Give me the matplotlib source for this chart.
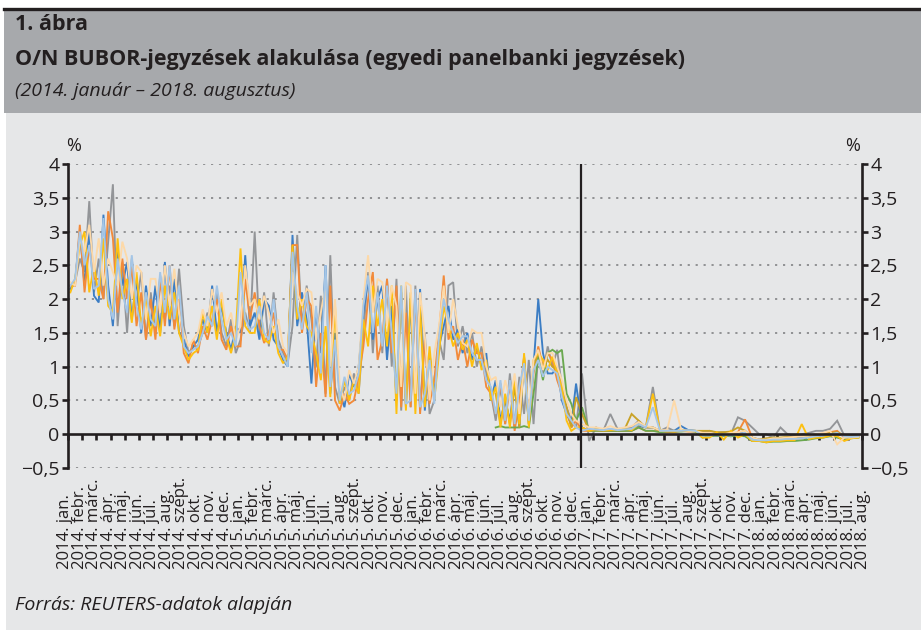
import numpy as np
import matplotlib
matplotlib.use("Agg")
import matplotlib.pyplot as plt
from matplotlib.patches import Rectangle
from matplotlib.lines import Line2D
from matplotlib.ticker import FuncFormatter
import matplotlib.transforms as mtransforms

# ---------------- data ----------------
months_hu = ["jan.", "febr.", "márc.", "ápr.", "máj.", "jún.", "júl.", "aug.",
             "szept.", "okt.", "nov.", "dec."]
month_labels = [f"{y}. {m}" for y in range(2014, 2019) for m in months_hu][:56]

# observation times (months since 2014 jan.): 3 per month 2014-2016, 2 per month 2017-2018
obs_a = [m + f for m in range(36) for f in (1/6, 1/2, 5/6)]
obs_b = [m + f for m in range(36, 56) for f in (0.25, 0.75)]
t = np.array(obs_a + obs_b)

grey = [2.2, 2.25, 2.6, 2.4, 3.45, 2.1, 2.6, 2.0, 2.85, 3.7, 1.6, 2.5,
        1.5, 2.6, 1.9, 2.4, 1.4, 2.1, 1.5, 2.35, 1.7, 2.2, 1.6, 2.45,
        1.6, 1.2, 1.3, 1.3, 1.5, 1.8, 1.6, 2.1, 1.5, 1.3, 1.7, 1.2,
        1.4, 1.8, 1.5, 3.0, 1.5, 2.1, 1.3, 2.1, 1.4, 1.2, 1.05, 1.6,
        2.95, 1.6, 2.2, 1.7, 1.0, 2.05, 0.6, 2.65, 0.7, 0.45, 0.7, 0.5,
        0.9, 0.6, 1.5, 2.4, 1.2, 2.2, 1.2, 2.3, 1.0, 2.3, 0.35, 2.2,
        0.4, 2.2, 0.35, 1.5, 0.3, 0.5, 1.4, 1.1, 2.2, 2.25, 1.3, 1.6,
        1.2, 1.5, 1.0, 1.3, 0.9, 0.6, 0.2, 0.7, 0.15, 0.9, 0.1, 0.85,
        0.3, 1.1, 0.15, 1.2, 0.9, 1.3, 1.0, 1.25, 0.7, 0.4, 0.2, 0.1,
        0.9, -0.1, 0.1, 0.05, 0.3, 0.08, 0.08, 0.1, 0.2, 0.1, 0.7, 0.05,
        0.1, 0.05, 0.05, 0.06, 0.05, 0.03, 0.05, 0.02, 0.03, 0.0, 0.25, 0.2,
        0.1, 0.0, 0.0, -0.05, 0.1, 0.0, -0.02, 0.0, 0.02, 0.05, 0.05, 0.08,
        0.2, -0.02, -0.05, -0.03]
blue = [2.15, 2.25, 3.0, 2.2, 3.0, 2.05, 1.95, 3.25, 2.2, 1.6, 2.7, 2.2,
        2.55, 1.7, 2.3, 1.5, 2.2, 1.6, 2.2, 1.5, 2.55, 1.6, 2.3, 1.5,
        1.4, 1.15, 1.3, 1.4, 1.7, 1.5, 2.2, 1.5, 1.9, 1.5, 1.25, 1.6,
        1.5, 2.65, 1.6, 1.8, 1.4, 2.0, 1.9, 1.4, 1.3, 1.1, 1.0, 2.95,
        1.6, 2.1, 1.7, 0.75, 1.8, 1.2, 2.5, 0.6, 1.5, 0.6, 0.4, 0.9,
        0.7, 1.0, 1.8, 2.3, 1.4, 2.0, 2.2, 1.1, 1.9, 0.5, 2.1, 0.4,
        2.0, 0.5, 2.15, 0.35, 1.2, 0.6, 1.3, 1.6, 1.9, 1.4, 1.55, 1.2,
        1.5, 1.1, 1.3, 1.0, 1.2, 0.5, 0.8, 0.2, 0.5, 0.2, 0.8, 0.1,
        1.1, 0.15, 1.0, 2.0, 1.2, 0.9, 0.9, 1.0, 0.5, 0.3, 0.15, 0.75,
        0.1, 0.05, 0.07, 0.06, 0.07, 0.06, 0.07, 0.08, 0.12, 0.1, 0.1, 0.05,
        0.05, 0.05, 0.12, 0.06, 0.05, 0.0, 0.0, -0.02, -0.02, 0.0, 0.0, 0.05,
        -0.05, -0.08, -0.08, -0.07, -0.07, -0.06, -0.06, -0.05, -0.04, -0.02, -0.02, 0.02,
        0.0, -0.02, -0.02, -0.03]
orange = [2.2, 2.2, 3.1, 2.1, 2.8, 2.3, 2.3, 2.0, 3.3, 2.9, 1.8, 2.6,
          2.0, 2.5, 1.6, 2.1, 1.4, 2.0, 1.4, 2.3, 1.6, 2.5, 1.55, 2.0,
          1.2, 1.05, 1.4, 1.2, 1.6, 1.4, 1.7, 2.0, 1.4, 1.25, 1.6, 1.3,
          1.3, 2.3, 1.7, 2.1, 1.6, 1.35, 1.5, 1.8, 1.25, 1.25, 1.1, 2.8,
          2.8, 1.5, 2.0, 1.9, 0.7, 1.5, 0.55, 2.2, 0.5, 0.35, 0.6, 0.45,
          0.5, 0.85, 1.3, 2.0, 2.4, 1.1, 1.4, 2.3, 1.2, 2.2, 0.4, 1.8,
          0.4, 2.1, 0.3, 1.4, 0.45, 0.8, 1.5, 2.35, 1.4, 1.6, 1.1, 1.4,
          1.0, 1.4, 1.2, 1.2, 0.7, 0.6, 0.3, 0.75, 0.15, 0.75, 0.05, 0.5,
          1.15, 0.2, 0.9, 1.3, 1.0, 1.2, 1.1, 0.8, 0.6, 0.35, 0.1, 0.2,
          0.05, 0.05, 0.06, 0.05, 0.05, 0.05, 0.05, 0.05, 0.1, 0.05, 0.05, 0.04,
          0.03, 0.03, 0.05, 0.04, 0.04, 0.0, -0.02, 0.02, 0.0, -0.03, 0.03, 0.22,
          -0.05, -0.1, -0.1, -0.08, -0.08, -0.07, -0.07, -0.06, -0.04, -0.02, 0.0, 0.03,
          0.05, -0.05, -0.05, -0.04]
yellow = [2.1, 2.3, 2.8, 3.0, 2.1, 2.5, 2.05, 2.9, 1.9, 1.8, 2.9, 2.0,
          2.3, 1.65, 2.4, 1.6, 2.0, 1.45, 1.9, 1.45, 2.2, 1.7, 2.1, 1.5,
          1.3, 1.1, 1.2, 1.25, 1.8, 1.5, 1.9, 1.4, 2.0, 1.45, 1.2, 1.5,
          2.75, 1.6, 1.5, 1.5, 2.0, 1.4, 1.35, 1.6, 1.2, 1.05, 1.15, 2.8,
          1.7, 2.0, 1.6, 1.5, 1.2, 0.8, 1.6, 0.55, 1.9, 0.45, 0.8, 0.5,
          0.8, 0.6, 1.7, 1.3, 2.2, 1.6, 2.0, 1.3, 2.2, 0.3, 2.2, 0.35,
          2.1, 0.3, 1.9, 0.4, 1.3, 0.5, 1.2, 1.9, 1.6, 1.3, 1.5, 1.25,
          1.4, 1.0, 1.35, 0.95, 1.1, 0.5, 0.7, 0.1, 0.6, 0.1, 0.85, 0.15,
          1.2, 0.1, 1.1, 1.2, 1.1, 0.95, 1.15, 0.9, 0.7, 0.2, 0.05, 0.1,
          0.1, 0.05, 0.08, 0.06, 0.06, 0.07, 0.08, 0.06, 0.15, 0.1, 0.6, 0.05,
          0.05, 0.04, 0.06, 0.05, 0.05, -0.05, -0.05, 0.03, -0.08, 0.05, -0.05, 0.0,
          -0.1, -0.1, -0.12, -0.1, -0.1, -0.09, -0.09, 0.15, -0.07, -0.05, -0.05, -0.02,
          -0.03, -0.1, -0.06, -0.05]
peach = [2.25, 2.2, 2.9, 2.7, 3.1, 2.4, 2.9, 2.2, 2.6, 2.4, 2.2, 2.85,
         2.6, 2.0, 2.5, 2.4, 1.7, 2.3, 2.3, 1.8, 2.5, 1.9, 2.45, 1.8,
         1.5, 1.3, 1.4, 1.5, 1.85, 1.6, 2.15, 1.8, 2.1, 1.6, 1.8, 1.4,
         1.6, 2.5, 1.9, 2.0, 1.7, 2.05, 1.8, 1.5, 1.7, 1.3, 1.2, 2.4,
         2.1, 1.9, 2.15, 2.1, 1.4, 1.8, 2.2, 1.0, 2.0, 0.7, 0.5, 0.95,
         0.75, 1.0, 2.0, 2.65, 1.8, 2.3, 2.25, 1.6, 2.2, 1.9, 0.7, 2.25,
         2.2, 0.6, 2.1, 1.45, 0.5, 1.2, 1.6, 2.2, 1.5, 2.0, 1.6, 1.35,
         1.3, 1.55, 1.5, 1.5, 1.0, 0.8, 0.85, 0.4, 0.8, 0.5, 0.9, 0.3,
         1.0, 0.3, 1.1, 1.25, 0.95, 1.2, 1.2, 1.0, 0.8, 0.5, 0.3, 0.2,
         0.15, 0.1, 0.1, 0.08, 0.12, 0.08, 0.1, 0.12, 0.18, 0.12, 0.1, 0.06,
         0.06, 0.5, 0.06, 0.05, 0.05, 0.02, 0.02, 0.0, 0.0, 0.02, 0.03, 0.05,
         -0.05, -0.08, -0.08, -0.06, -0.06, -0.05, -0.04, -0.03, -0.02, 0.0, 0.02, 0.05,
         -0.15, -0.05, -0.05, -0.04]
lightblue = [2.2, 2.3, 3.0, 2.5, 2.8, 2.15, 2.2, 3.2, 2.0, 1.7, 2.6, 2.1,
             1.8, 2.65, 1.9, 1.55, 2.1, 1.7, 1.6, 2.4, 1.8, 2.5, 1.7, 2.2,
             1.3, 1.2, 1.25, 1.3, 1.5, 1.75, 1.6, 2.2, 1.7, 1.4, 1.5, 1.3,
             2.4, 1.7, 1.55, 1.6, 1.9, 1.5, 1.4, 2.0, 1.3, 1.15, 1.0, 2.7,
             1.9, 1.55, 2.1, 1.2, 1.9, 0.9, 2.5, 0.7, 1.4, 0.5, 0.85, 0.6,
             0.65, 0.9, 1.9, 2.35, 1.5, 2.1, 1.3, 2.2, 1.5, 0.6, 2.2, 0.45,
             0.5, 2.15, 0.4, 0.6, 1.1, 0.45, 1.45, 2.0, 1.7, 1.5, 1.35, 1.45,
             1.45, 1.2, 1.1, 1.1, 0.8, 0.7, 0.3, 0.8, 0.2, 0.8, 0.15, 0.7,
             1.05, 0.2, 0.95, 1.1, 0.85, 1.0, 0.95, 0.9, 0.55, 0.3, 0.2, 0.1,
             0.05, 0.08, 0.07, 0.06, 0.08, 0.06, 0.07, 0.08, 0.15, 0.1, 0.4, 0.05,
             0.05, 0.05, 0.05, 0.06, 0.05, -0.02, -0.02, 0.0, -0.01, -0.02, 0.0, 0.02,
             -0.08, -0.09, -0.09, -0.08, -0.08, -0.07, -0.07, -0.06, -0.05, -0.03, -0.02, 0.0,
             0.02, -0.03, -0.04, -0.03]
green = [np.nan] * 90 + [
         0.1, 0.12, 0.1, 0.1, 0.1, 0.1, 0.12, 0.1, 0.6, 1.15, 0.8, 1.2,
         1.25, 1.2, 1.25, 0.6, 0.45, 0.2,
         0.4, 0.05, 0.05, 0.05, 0.05, 0.05, 0.05, 0.05, 0.1, 0.05, 0.05, 0.03,
         0.04, 0.04, 0.04, 0.05, 0.04, -0.05, -0.03, -0.02, -0.02, -0.03, -0.02, -0.03,
         -0.1, -0.1, -0.12, -0.11, -0.11, -0.1, -0.1, -0.09, -0.08, -0.06, -0.05, -0.03,
         -0.05, -0.08, -0.06, -0.05]
gold = [np.nan] * 90 + [
        0.6, 0.15, 0.55, 0.15, 0.7, 0.1, 1.15, 0.15, 1.0, 1.2, 1.0, 1.1,
        1.0, 0.95, 0.65, 0.4, 0.1, 0.55,
        0.3, 0.05, 0.06, 0.05, 0.06, 0.06, 0.07, 0.3, 0.2, 0.1, 0.1, 0.05,
        0.05, 0.05, 0.05, 0.05, 0.05, 0.05, 0.05, 0.03, 0.03, 0.04, 0.1, 0.05,
        -0.05, -0.08, -0.06, -0.05, -0.05, -0.04, -0.04, -0.03, -0.02, 0.0, 0.0, 0.02,
        0.03, -0.02, -0.03, -0.03]

series = [
    (grey, "#939598"),
    (blue, "#3b7dc4"),
    (orange, "#f28a3a"),
    (green, "#6aa84f"),
    (gold, "#c9a227"),
    (yellow, "#fdc010"),
    (peach, "#fdd9a8"),
    (lightblue, "#a5c6e6"),
]

# ---------------- figure ----------------
W, H = 921, 630
fig = plt.figure(figsize=(W / 100, H / 100), dpi=100)
fig.patch.set_facecolor("white")
plt.rcParams["font.family"] = ["Open Sans", "DejaVu Sans"]
TXT = "#231f20"


def fx(px):
    return px / W


def fy(py):
    return 1 - py / H


# panel backgrounds
fig.add_artist(Rectangle((fx(6), 0), 1 - fx(6), (630 - 113) / H,
                         transform=fig.transFigure, facecolor="#e6e7e8",
                         edgecolor="none", zorder=0))
fig.add_artist(Rectangle((fx(4), fy(113)), 1 - fx(4), (113 - 10) / H,
                         transform=fig.transFigure, facecolor="#a7a9ac",
                         edgecolor="none", zorder=0))
fig.add_artist(Line2D([fx(4), 1], [fy(8.5), fy(8.5)], transform=fig.transFigure,
                      color=TXT, lw=2.4, zorder=1))

fig.text(fx(15), fy(24), "1. ábra", fontsize=15.5, fontweight="bold",
         color=TXT, va="center", ha="left")
fig.text(fx(15), fy(60), "O/N BUBOR-jegyzések alakulása (egyedi panelbanki jegyzések)",
         fontsize=15.5, fontweight="bold", color=TXT, va="center", ha="left")
fig.text(fx(15), fy(91), "(2014. január – 2018. augusztus)", fontsize=14,
         style="italic", color=TXT, va="center", ha="left")
fig.text(fx(15), fy(605), "Forrás: REUTERS-adatok alapján", fontsize=14,
         style="italic", color=TXT, va="center", ha="left")

# ---------------- axes ----------------
ax = fig.add_axes([fx(68), fy(468), fx(862) - fx(68), (468 - 164) / H])
ax.set_facecolor("none")
ax.set_xlim(0, 56)
ax.set_ylim(-0.5, 4)

yt = np.arange(-0.5, 4.01, 0.5)
for v in yt:
    if abs(v) > 1e-9:
        ax.axhline(v, color="#8a8b8d", lw=1.3, ls=(0, (1.2, 3.2)), zorder=1)

for vals, col in series:
    ax.plot(t, vals, color=col, lw=1.35, zorder=2, solid_joinstyle="miter")

ax.axvline(36.2, color=TXT, lw=1.6, zorder=4)

ax.spines["top"].set_visible(False)
for s in ("left", "right"):
    ax.spines[s].set_linewidth(1.9)
    ax.spines[s].set_color(TXT)
ax.spines["bottom"].set_position(("data", 0))
ax.spines["bottom"].set_linewidth(1.9)
ax.spines["bottom"].set_color(TXT)
ax.spines["bottom"].set_zorder(5)

ax.set_yticks(yt)
ax.yaxis.set_major_formatter(FuncFormatter(
    lambda v, p: ("%g" % v).replace(".", ",").replace("-", "\u2212")))
ax.tick_params(axis="y", which="both", left=True, right=True, labelleft=True,
               labelright=True, direction="out", length=4, width=1.9,
               color=TXT, labelsize=14, labelcolor=TXT, pad=2)
ax.set_xticks(np.arange(0, 57))
ax.set_xticklabels([])
ax.tick_params(axis="x", direction="out", length=4, width=1.9, color=TXT)

fig.text(fx(74), fy(146), "%", fontsize=13, color=TXT, ha="center", va="center")
fig.text(fx(853), fy(146), "%", fontsize=13, color=TXT, ha="center", va="center")

# rotated month labels
trans = mtransforms.blended_transform_factory(ax.transData, fig.transFigure)
for i, lab in enumerate(month_labels):
    pos = (65 + i * 14.51 - 68) / (794 / 56)
    ax.text(pos, fy(569), lab, transform=trans, rotation=90,
            rotation_mode="anchor", ha="left", va="center", fontsize=12,
            color=TXT, clip_on=False)

fig.savefig("out.png", dpi=100)
